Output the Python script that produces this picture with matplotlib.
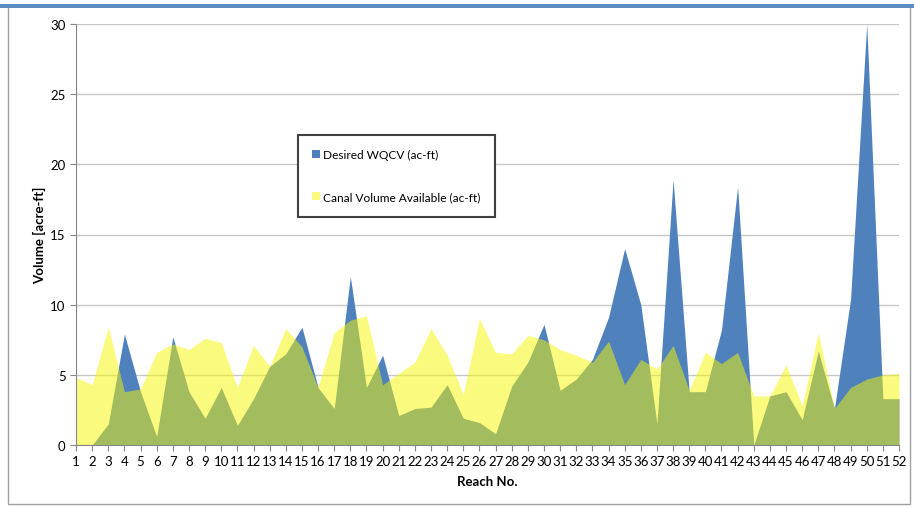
import numpy as np
import matplotlib
matplotlib.use("Agg")
import matplotlib.pyplot as plt
from matplotlib.patches import Patch, Rectangle

plt.rcParams['font.family'] = ['Lato', 'DejaVu Sans']

# Reach numbers and volumes (ac-ft)
reach = list(range(1, 53))
desired_wqcv = [0.0, 0.0, 1.5, 7.9, 3.8, 0.6, 7.7, 3.8, 1.9, 4.1,
                1.4, 3.3, 5.6, 6.5, 8.4, 4.1, 2.6, 12.0, 4.1, 6.4,
                2.1, 2.6, 2.7, 4.3, 1.9, 1.6, 0.8, 4.2, 5.9, 8.6,
                3.9, 4.7, 6.1, 9.1, 14.0, 10.0, 1.5, 18.9, 3.8, 3.8,
                8.2, 18.4, 0.0, 3.5, 3.8, 1.8, 6.7, 2.6, 10.4, 30.0,
                3.3, 3.3]
canal_volume = [4.8, 4.3, 8.4, 3.8, 4.0, 6.6, 7.2, 6.8, 7.6, 7.3,
                4.1, 7.1, 5.6, 8.3, 7.0, 4.1, 8.0, 8.9, 9.2, 4.3,
                5.1, 5.9, 8.3, 6.4, 3.6, 9.0, 6.6, 6.5, 7.8, 7.5,
                6.8, 6.4, 5.9, 7.4, 4.3, 6.1, 5.4, 7.1, 3.9, 6.6,
                5.8, 6.6, 3.5, 3.5, 5.7, 2.8, 8.0, 2.6, 4.1, 4.7,
                5.0, 5.1]

blue = '#4f81bd'
yellow = (0.97, 0.97, 0.0)
yalpha = 0.5

fig = plt.figure(figsize=(9.14, 5.10), dpi=100)
ax = fig.add_axes([76/914, 1-446/510, 823/914, 421/510])

ax.fill_between(reach, desired_wqcv, 0, color=blue, lw=0)
ax.fill_between(reach, canal_volume, 0, color=yellow, alpha=yalpha, lw=0)

ax.set_xlim(1, 52)
ax.set_ylim(0, 30)
ax.set_yticks(range(0, 31, 5))
ax.set_xticks(reach)
ax.set_xticklabels([str(r) for r in reach], fontsize=9.5)
ax.tick_params(axis='y', labelsize=9.5, length=4, color='#868686')
ax.tick_params(axis='x', length=4, color='#868686', pad=3)
ax.grid(axis='y', color='#c8c8c8', lw=1)
ax.set_axisbelow(True)
for s in ['top', 'right']:
    ax.spines[s].set_visible(False)
for s in ['left', 'bottom']:
    ax.spines[s].set_color('#868686')

ax.set_ylabel('Volume [acre-ft]', fontsize=9.5, fontweight='bold', labelpad=3)
ax.set_xlabel('Reach No.', fontsize=9.5, fontweight='bold', labelpad=6)

handles = [Patch(facecolor=blue, edgecolor='none'),
           Patch(facecolor=yellow, alpha=yalpha, edgecolor='none')]
leg = fig.legend(handles, ['Desired WQCV (ac-ft)', 'Canal Volume Available (ac-ft)'],
                 loc='upper left', bbox_to_anchor=(298/914, 1-136/510),
                 borderaxespad=0, fontsize=8.6, handlelength=0.6, handleheight=0.6,
                 handletextpad=0.3, labelspacing=2.6, borderpad=1.2,
                 fancybox=False, framealpha=1)
leg.get_frame().set_edgecolor('#404040')
leg.get_frame().set_linewidth(1.5)

# outer chart frame
fig.patches.append(Rectangle((8/914, 5/510), 902/914, 498/510, transform=fig.transFigure,
                             fill=False, edgecolor='#a0a0a0', lw=1))
fig.patches.append(Rectangle((0, 1-9/510), 1, 4/510, transform=fig.transFigure,
                             facecolor='#5b8cc4', edgecolor='none'))

fig.savefig('out.png', dpi=100)
